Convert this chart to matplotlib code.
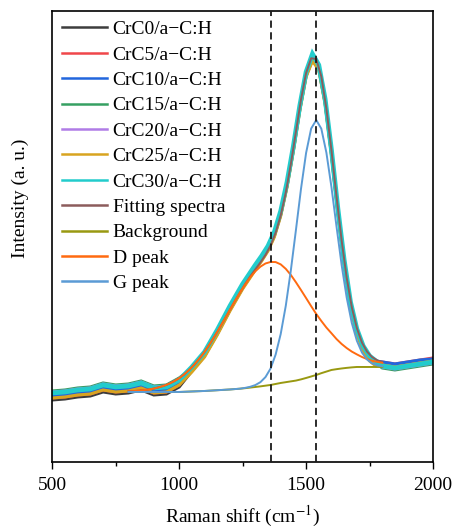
import matplotlib
matplotlib.use('Agg')
import matplotlib.pyplot as plt
import numpy as np
from matplotlib.ticker import MultipleLocator, NullLocator

plt.rcParams['font.family'] = ['Liberation Serif', 'DejaVu Serif']
plt.rcParams['mathtext.fontset'] = 'stix'

# ---------------- data (arbitrary intensity units) ----------------
raman_x = [500, 550, 600, 650, 700, 750, 800, 850, 900, 950, 1000, 1050, 1100, 1150, 1200,
           1250, 1300, 1325, 1350, 1375, 1400, 1425, 1450, 1475, 1500, 1525, 1550, 1575,
           1600, 1625, 1650, 1675, 1700, 1725, 1750, 1775, 1800, 1850, 1900, 1950, 2000]

crc0 = [62, 63, 65, 66, 70, 68, 69, 72, 67, 68, 75,
        91, 106, 128, 152, 174, 193, 202, 212, 226, 247, 276, 312, 352, 386, 402, 393, 359, 308, 250,
        198, 156, 129, 112, 102, 97,
        97, 95, 97, 99, 101]
crc5 = [64, 65, 67, 68, 72, 70, 71, 74, 69, 70, 77,
        94, 109, 131, 155, 177, 196, 205, 215, 229, 250, 279, 315, 355, 389, 405, 396, 362, 311, 253,
        201, 159, 132, 115, 105, 100,
        100, 98, 100, 102, 104]
crc10 = [66, 67, 69, 70, 74, 72, 73, 76, 71, 72, 79,
         94, 108, 131, 155, 176, 196, 205, 214, 229, 250, 279, 315, 355, 389, 404, 396, 362, 312, 253,
         202, 159, 132, 115, 105, 101,
         100, 98, 100, 102, 103]
crc15 = [71, 72, 74, 75, 79, 77, 78, 81, 76, 77, 84,
         93, 109, 130, 154, 177, 195, 204, 214, 228, 249, 278, 314, 354, 388, 404, 395, 361, 310, 252,
         200, 158, 131, 114, 104, 99,
         94, 92, 94, 96, 98]
crc20 = [70, 71, 73, 74, 78, 76, 77, 80, 75, 76, 83,
         94, 109, 131, 155, 177, 196, 205, 215, 229, 250, 279, 315, 355, 389, 405, 396, 362, 311, 253,
         201, 159, 132, 115, 104, 99,
         95, 93, 95, 97, 99]
crc25 = [64, 65, 67, 68, 72, 70, 71, 74, 69, 70, 77,
         90, 105, 127, 151, 173, 192, 201, 211, 225, 246, 275, 311, 351, 385, 401, 392, 358, 307, 249,
         197, 155, 128, 111, 101, 96,
         97, 95, 97, 99, 101]
crc30 = [69, 70, 72, 73, 77, 75, 76, 79, 74, 75, 82,
         95, 110, 132, 156, 178, 197, 206, 216, 230, 251, 280, 316, 356, 390, 408, 397, 363, 312, 254,
         202, 160, 133, 116, 106, 101,
         96, 94, 96, 98, 100]

sample_labels = ['CrC0/a\u2212C:H', 'CrC5/a\u2212C:H', 'CrC10/a\u2212C:H', 'CrC15/a\u2212C:H',
                 'CrC20/a\u2212C:H', 'CrC25/a\u2212C:H', 'CrC30/a\u2212C:H']
sample_colors = ['#3d3d3d', '#f0474a', '#2266dd', '#36a062', '#b07ce6', '#d8a420', '#22cccc']

fit_x = list(range(800, 1801, 20))
background = [70, 70, 70, 70, 70, 70, 70, 70, 70, 70, 70,
              70.2, 70.4, 70.6, 70.8, 71, 71.3, 71.6, 71.9, 72.2, 72.5, 72.9, 73.3, 73.8, 74.4, 75,
              75.6, 76.3, 77, 78, 79, 79.8, 80.6, 81.4, 82.6, 84, 85.5, 87, 88.8, 90.4, 92,
              92.8, 93.5, 94.1, 94.6, 95, 95, 95, 95, 95, 95]
d_peak = [0.6, 0.9, 1.3, 1.8, 2.5, 3.4, 4.7, 6.2, 8.2, 10.7, 13.8, 17.4, 21.8, 26.9, 32.7, 39.2,
          46.5, 54.3, 62.6, 71.1, 79.8, 88.3, 96.4, 103.9, 110.4, 115.7, 119.7, 122.2, 123,
          121.9, 118.6, 113.3, 106.4, 98.3, 89.3, 79.9, 70.3, 61.0, 52.2, 44.0, 36.7, 30.1, 24.5,
          19.8, 15.8, 12.6, 10.0, 7.9, 6.3, 5.1, 4.2]
g_peak = [0] * 23 + [0.3, 0.8, 1.9, 4.2, 8.6, 16.4, 29.4, 49.0, 76.4, 111.1, 150.6, 190.6, 225.0,
                     247.9, 254.9, 244.5, 218.9, 182.8, 142.5, 103.6, 70.3, 44.5, 26.3, 14.5, 7.5,
                     3.6, 1.6, 0.7]

d_position = 1360
g_position = 1540

# ---------------- figure ----------------
fig = plt.figure(figsize=(4.54, 5.29), dpi=100)
ax = fig.add_axes([0.1152, 0.1267, 0.8385, 0.8526])

handles = []
for ys, lab, col in zip([crc0, crc5, crc10, crc15, crc20, crc25, crc30], sample_labels, sample_colors):
    lw = 3.4 if lab.startswith('CrC30') else 2.2
    h, = ax.plot(raman_x, ys, color=col, lw=lw, label=lab, solid_joinstyle='miter')
    handles.append(h)

bg = np.array(background)
fit_total = bg + np.array(d_peak) + np.array(g_peak)
h_fit, = ax.plot(fit_x, fit_total, color='#8c5c5c', lw=1.4, label='Fitting spectra')
h_bg, = ax.plot(fit_x, bg, color='#999911', lw=1.4, label='Background')
h_d, = ax.plot(fit_x, bg + np.array(d_peak), color='#ff6a10', lw=1.4, label='D peak')
h_g, = ax.plot(fit_x, bg + np.array(g_peak), color='#5b9bd5', lw=1.4, label='G peak')
handles += [h_fit, h_bg, h_d, h_g]

for xv in (d_position, g_position):
    ax.axvline(xv, color='#1a1a1a', lw=1.3, ls=(0, (4, 2.5)), zorder=5)

ax.set_xlim(500, 2000)
ax.set_ylim(0, 451)
ax.xaxis.set_major_locator(MultipleLocator(500))
ax.xaxis.set_minor_locator(MultipleLocator(250))
ax.yaxis.set_major_locator(NullLocator())
ax.tick_params(axis='x', which='major', direction='out', length=5, width=1, labelsize=14, pad=6)
ax.tick_params(axis='x', which='minor', direction='out', length=3, width=1)
for sp in ax.spines.values():
    sp.set_linewidth(1.2)

ax.set_xlabel(r'Raman shift (cm$^{-1}$)', fontsize=14, labelpad=7)
ax.set_ylabel('Intensity (a. u.)', fontsize=14)
ax.yaxis.set_label_coords(-0.06, 0.585)

leg = ax.legend(handles=handles, loc='upper left', frameon=False, fontsize=14,
                handlelength=2.3, handletextpad=0.3, labelspacing=0.4,
                borderaxespad=0.1, borderpad=0.4)
for lh in leg.get_lines():
    lh.set_linewidth(1.8)

fig.savefig('out.png', dpi=100)
